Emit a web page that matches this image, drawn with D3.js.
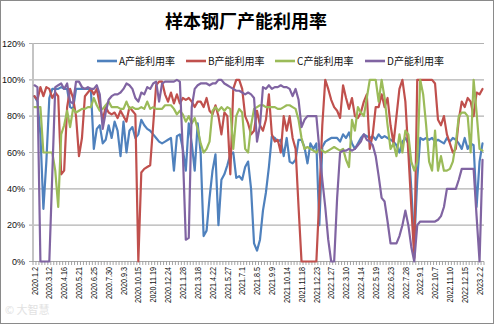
<!DOCTYPE html>
<html><head><meta charset="utf-8">
<script src="https://cdn.jsdelivr.net/npm/d3@7"></script>
<style>html,body{margin:0;padding:0;background:#fff}svg{display:block}</style>
</head><body><svg id="c" width="494" height="324"></svg>
<script>
const chartTitle = "样本钢厂产能利用率";
const seriesNames = ["A产能利用率", "B产能利用率", "C产能利用率", "D产能利用率"];
const seriesColors = ["#4F81BD", "#C0504D", "#9BBB59", "#8064A2"];
const yTicks = [0, 20, 40, 60, 80, 100, 120];
const tickLabels = ["2020.1.2","2020.3.12","2020.4.16","2020.5.21","2020.6.25","2020.7.30","2020.9.3",
  "2020.10.15","2020.11.19","2020.12.24","2021.1.28","2021.3.18","2021.4.22","2021.5.27","2021.7.1",
  "2021.8.5","2021.9.9","2021.10.14","2021.11.18","2021.12.23","2022.1.27","2022.3.10","2022.4.14",
  "2022.5.19","2022.6.23","2022.7.28","2022.9.1","2022.10.7","2022.11.10","2022.12.15","2023.2.2"];
const labelEvery = 5;

const seriesA = [
  91,88,70,29,55,90,95,95,95,96, 95,95,85,84,95,95,95,95,95,95,
  62,73,75,65,67,75,68,77,72,58, 77,60,72,74,68,70,78,75,73,72,
  70,68,66,65,66,67,68,50,69,70, 62,50,76,65,50,76,60,14,17,35,
  50,59,20,45,48,53,59,60,46,47, 45,52,55,40,10,6,12,28,38,52,
  69,68,66,67,58,68,55,54,56,67, 67,63,54,65,62,65,20,63,66,67,
  68,68,68,66,70,68,71,65,62,65, 68,70,69,68,69,67,70,68,69,68,
  67,66,64,60,66,68,65,40,10,45, 68,67,68,67,68,66,67,66,65,68,
  66,68,67,65,62,68,62,65,64,30, 55,65];
const seriesB = [
  91,89,96,91,96,95,90,93,91,48, 50,85,95,90,80,58,68,91,93,95,
  92,95,86,78,85,82,81,82,79,83, 80,77,85,83,81,0,49,51,52,53,
  75,97,99,99,92,88,93,87,92,87, 90,89,90,88,85,88,88,85,90,83,
  81,86,80,70,82,80,48,95,100,100, 95,80,76,70,72,83,75,72,78,92,
  70,66,67,60,80,72,80,68,62,30, 0,0,0,0,0,0,35,75,100,95,
  89,85,83,79,97,90,84,90,80,79, 82,88,92,62,70,85,85,92,85,90,
  75,65,80,95,100,88,60,30,2,100, 100,100,100,100,100,98,78,75,80,70,
  65,60,62,78,88,85,90,88,80,93, 92,95];
const seriesC = [
  85,85,85,60,60,60,60,50,30,70, 75,83,74,84,82,83,84,84,85,85,
  90,86,83,84,86,88,85,85,85,84, 84,88,84,85,84,84,85,84,88,84,
  85,84,84,84,86,86,86,84,81,83, 81,77,80,76,79,73,65,60,62,66,
  83,85,83,85,83,85,84,62,80,84, 82,62,60,75,84,85,86,86,85,85,
  85,85,84,84,85,86,86,85,84,78, 68,62,63,62,61,60,62,61,60,61,
  62,63,62,61,62,56,52,78,72,85, 82,80,90,100,100,100,88,100,90,75,
  62,65,58,70,60,72,70,55,50,55, 100,92,75,55,50,72,50,58,50,50,
  51,55,65,80,82,82,80,60,100,82, 62,61];
const seriesD = [
  97,96,0,0,0,0,48,96,97,98, 95,98,88,87,99,99,96,95,96,95,
  95,97,92,73,82,89,91,92,92,93, 95,98,97,95,90,88,93,92,96,95,
  98,99,88,98,99,99,99,99,100,99, 60,12,13,85,95,97,98,98,98,97,
  98,98,100,100,98,97,96,95,94,94, 93,92,93,92,90,66,75,96,95,97,
  95,96,96,97,96,96,95,91,95,89, 74,78,80,80,80,80,62,45,30,12,
  0,0,35,60,61,61,62,61,62,64, 66,70,67,66,64,58,47,35,33,22,
  10,10,10,14,20,28,20,8,0,20, 22,22,22,22,22,22,23,25,30,40,
  40,40,40,45,51,51,51,51,51,25, 0,56];

const allSeries = [seriesA, seriesB, seriesC, seriesD];
const categories = d3.range(seriesA.length);

const svg = d3.select("#c");
const plot = {left: 33, right: 484, top: 43.5, bottom: 261.5};

svg.append("rect").attr("x",0.5).attr("y",0.5).attr("width",493).attr("height",323)
  .attr("fill","#fff").attr("stroke","#8a8a8a").attr("stroke-width",1);

const x = d3.scaleBand().domain(categories).range([plot.left, plot.right]);
const y = d3.scaleLinear().domain([0, 120]).range([plot.bottom, plot.top]);
const cx = i => x(i) + x.bandwidth() / 2;

// gridlines
svg.append("g").selectAll("line").data(yTicks.filter(v => v > 0)).join("line")
  .attr("x1", plot.left - 4).attr("x2", plot.right)
  .attr("y1", d => y(d)).attr("y2", d => y(d))
  .attr("stroke", "#b2b2b2").attr("stroke-width", 1.2);

// y axis line
svg.append("line").attr("x1", plot.left).attr("x2", plot.left)
  .attr("y1", plot.top).attr("y2", plot.bottom)
  .attr("stroke", "#c4c4c4").attr("stroke-width", 2);

// y labels
svg.append("g").selectAll("text").data(yTicks).join("text")
  .attr("x", 25).attr("y", d => y(d)).attr("dy", "0.35em")
  .attr("text-anchor", "end")
  .attr("font-family", "Liberation Sans, Arial, sans-serif").attr("font-size", 9)
  .attr("fill", "#111")
  .text(d => d + "%");

// x axis line and ticks
svg.append("line").attr("x1", plot.left - 4).attr("x2", plot.right)
  .attr("y1", plot.bottom).attr("y2", plot.bottom)
  .attr("stroke", "#a8a8a8").attr("stroke-width", 1.2);
const bounds = categories.map(i => x(i)).concat([plot.right]);
svg.append("g").selectAll("line").data(bounds).join("line")
  .attr("x1", d => d).attr("x2", d => d)
  .attr("y1", plot.bottom).attr("y2", plot.bottom + 3.5)
  .attr("stroke", "#8c8c8c").attr("stroke-width", 0.8);

// x labels
svg.append("g").selectAll("text").data(tickLabels).join("text")
  .attr("transform", (d, k) => `translate(${cx(k * labelEvery)},267) rotate(-90) scale(0.8,1)`)
  .attr("text-anchor", "end").attr("dy", "0.35em")
  .attr("font-family", "Liberation Sans, Arial, sans-serif").attr("font-size", 9)
  .attr("fill", "#111")
  .text(d => d);

// series lines
const line = d3.line().x((d, i) => cx(i)).y(d => y(d));
svg.append("g").selectAll("path").data(allSeries).join("path")
  .attr("d", d => line(d))
  .attr("fill", "none")
  .attr("stroke", (d, k) => seriesColors[k])
  .attr("stroke-width", 2.2)
  .attr("stroke-linejoin", "round").attr("stroke-linecap", "round");

// title
svg.append("text").attr("x", 246).attr("y", 21.5).attr("dy", "0.36em")
  .attr("text-anchor", "middle")
  .attr("font-family", "Noto Sans CJK SC, sans-serif").attr("font-weight", "bold")
  .attr("font-size", 18).attr("fill", "#000")
  .text(chartTitle);

// legend
const legendX = [97, 186, 275, 365];
const lg = svg.append("g").selectAll("g").data(seriesNames).join("g")
  .attr("transform", (d, k) => `translate(${legendX[k]},61)`);
lg.append("line").attr("x1", 0).attr("x2", 20).attr("y1", 0).attr("y2", 0)
  .attr("stroke", (d, k) => seriesColors[k]).attr("stroke-width", 2.6);
lg.append("text").attr("x", 22).attr("dy", "0.35em")
  .attr("font-family", "Noto Sans CJK SC, sans-serif").attr("font-size", 10)
  .attr("fill", "#111").text(d => d);

// watermark
svg.append("text").attr("x", 5).attr("y", 314)
  .attr("font-family", "Noto Sans CJK SC, sans-serif").attr("font-size", 11)
  .attr("fill", "#e2e2e2").text("© 大智慧");
</script>
</body></html>
